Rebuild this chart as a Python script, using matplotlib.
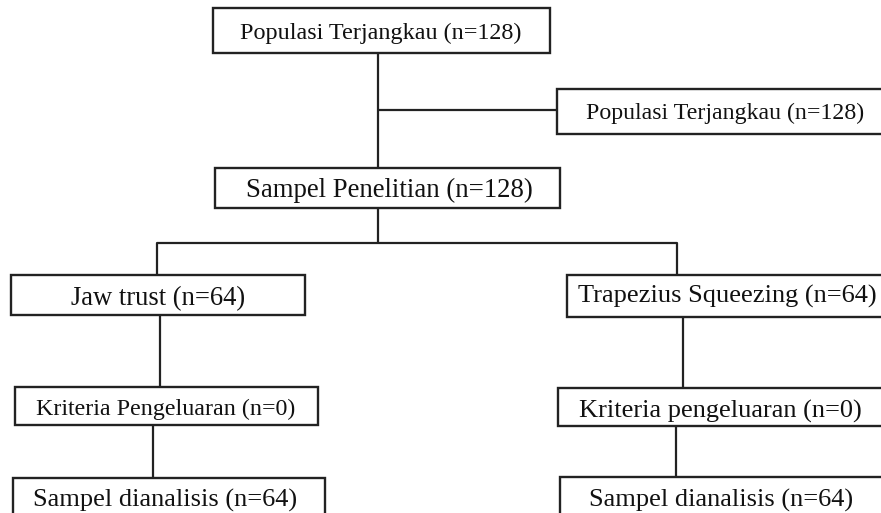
import matplotlib.pyplot as plt
from matplotlib.patches import Rectangle

# box labels, top to bottom
labels = [
    "Populasi Terjangkau (n=128)",
    "Populasi Terjangkau (n=128)",
    "Sampel Penelitian (n=128)",
    "Jaw trust (n=64)",
    "Trapezius Squeezing (n=64)",
    "Kriteria Pengeluaran (n=0)",
    "Kriteria pengeluaran (n=0)",
    "Sampel dianalisis (n=64)",
    "Sampel dianalisis (n=64)",
]

# layout in pixels: (left, top, right, bottom, text x, text baseline, font size)
boxes = [
    (213, 8, 550, 53, 381, 39, 17.4),
    (557, 89, 895, 134, 725, 119, 17.2),
    (215, 168, 560, 208, 389, 197, 19.3),
    (11, 275, 305, 315, 158, 305, 19.2),
    (567, 275, 895, 317, 727, 303, 19),
    (15, 387, 318, 425, 166, 415, 17.3),
    (558, 388, 895, 426, 720, 418, 19),
    (13, 478, 325, 530, 165, 507, 19),
    (560, 477, 895, 530, 721, 507, 19),
]

# connector polylines in pixels
links = [
    [(378, 53), (378, 168)],
    [(378, 110), (557, 110)],
    [(378, 208), (378, 243)],
    [(157, 275), (157, 243), (677, 243), (677, 275)],
    [(160, 315), (160, 387)],
    [(683, 317), (683, 388)],
    [(153, 425), (153, 478)],
    [(676, 426), (676, 477)],
]

fig = plt.figure(figsize=(8.81, 5.13), dpi=100)
ax = fig.add_axes([0, 0, 1, 1])
ax.set_xlim(0, 881)
ax.set_ylim(513, 0)
ax.axis("off")

edge = "#222222"
for line in links:
    xs = [p[0] for p in line]
    ys = [p[1] for p in line]
    ax.plot(xs, ys, color=edge, lw=1.6, solid_capstyle="butt")

for label, (x0, y0, x1, y1, tx, ty, fs) in zip(labels, boxes):
    ax.add_patch(Rectangle((x0, y0), x1 - x0, y1 - y0, facecolor="white",
                           edgecolor=edge, lw=1.7, zorder=3))
    ax.text(tx, ty, label, ha="center", va="baseline", fontsize=fs,
            family="Liberation Serif", color="#111111", zorder=4)

fig.savefig("out.png", dpi=100)
